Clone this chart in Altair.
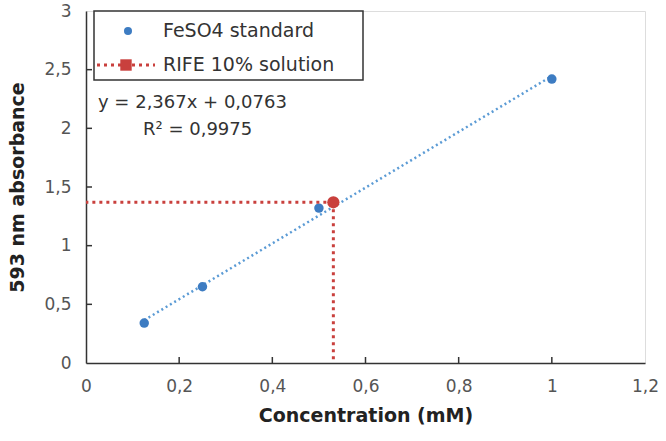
import altair as alt
import pandas as pd

# ---- data ----
std_conc = [0.125, 0.25, 0.5, 1.0]
std_abs = [0.34, 0.65, 1.32, 2.42]
sample_conc = [0.531]
sample_abs = [1.37]
x_ticks = [0, 0.2, 0.4, 0.6, 0.8, 1.0, 1.2]
y_ticks = [0, 0.5, 1, 1.5, 2, 2.5, 3]
legend_labels = ["FeSO4 standard", "RIFE 10% solution"]
eq_lines = ["y = 2,367x + 0,0763", "R\u00b2 = 0,9975"]

BLUE = "#3d7cc2"
LBLUE = "#5b9bd5"
RED = "#c9403d"
FONT = "DejaVu Sans"

W, H = 559, 352

df_std = pd.DataFrame({"conc": std_conc, "abs": std_abs})
df_smp = pd.DataFrame({"conc": sample_conc, "abs": sample_abs})
df_xt = pd.DataFrame({"conc": x_ticks[1:-1]})
df_yt = pd.DataFrame({"abs": y_ticks[1:-1]})
one = pd.DataFrame({"k": [0]})

xscale = alt.Scale(domain=[0, 1.2], nice=False, zero=False)
yscale = alt.Scale(domain=[0, 3], nice=False, zero=False)

xaxis = alt.Axis(
    title="Concentration (mM)", values=x_ticks, grid=False, ticks=False, format=".1~f",
    labelExpr="replace(datum.label, '.', ',')", labelFont=FONT, labelFontSize=17,
    labelColor="#555555", labelPadding=15, titleFont=FONT, titleFontSize=19,
    titleFontWeight="bold", titleColor="#222222", titlePadding=12,
    domainColor="#333333", domainWidth=1.5, labelFlush=False,
)
yaxis = alt.Axis(
    title="593 nm absorbance", values=y_ticks, grid=False, ticks=False, format=".1~f",
    labelExpr="replace(datum.label, '.', ',')", labelFont=FONT, labelFontSize=17,
    labelColor="#555555", labelPadding=15, titleFont=FONT, titleFontSize=19,
    titleFontWeight="bold", titleColor="#222222", titlePadding=16,
    domainColor="#333333", domainWidth=1.5, labelFlush=False,
)

trend = alt.Chart(df_std).transform_regression("conc", "abs").mark_line(
    color=LBLUE, strokeDash=[2, 3], strokeWidth=2.5
).encode(
    x=alt.X("conc:Q", scale=xscale, axis=xaxis),
    y=alt.Y("abs:Q", scale=yscale, axis=yaxis),
)

points = alt.Chart(df_std).mark_circle(size=90, color=BLUE, opacity=1).encode(
    x="conc:Q", y="abs:Q"
)

hline = alt.Chart(df_smp).mark_rule(color=RED, strokeDash=[3, 4], strokeWidth=3).encode(
    x="conc:Q", x2=alt.datum(0), y="abs:Q"
)
vline = alt.Chart(df_smp).mark_rule(color=RED, strokeDash=[3, 4], strokeWidth=3).encode(
    x="conc:Q", y="abs:Q", y2=alt.datum(0)
)
redpt = alt.Chart(df_smp).mark_circle(size=150, color=RED, opacity=1).encode(
    x="conc:Q", y="abs:Q"
)

xt = alt.Chart(df_xt).mark_rule(color="#333333", strokeWidth=1.5).encode(
    x="conc:Q", y=alt.value(H), y2=alt.value(H - 6)
)
yt = alt.Chart(df_yt).mark_rule(color="#333333", strokeWidth=1.5).encode(
    y="abs:Q", x=alt.value(0), x2=alt.value(6)
)

# legend (inside plot, top-left)
lbox = alt.Chart(one).mark_rect(fill="white", stroke="#333333", strokeWidth=1.5).encode(
    x=alt.value(8), x2=alt.value(277), y=alt.value(0), y2=alt.value(69)
)
lcirc = alt.Chart(one).mark_circle(size=65, color=BLUE, opacity=1).encode(
    x=alt.value(42), y=alt.value(20)
)
lline = alt.Chart(one).mark_rule(color=RED, strokeDash=[3, 4], strokeWidth=3).encode(
    x=alt.value(11), x2=alt.value(69), y=alt.value(54)
)
lsq = alt.Chart(one).mark_square(size=130, color=RED, opacity=1).encode(
    x=alt.value(40), y=alt.value(54)
)
ltxt1 = alt.Chart(one).mark_text(
    text=legend_labels[0], align="left", baseline="middle", font=FONT, fontSize=19, color="#333333"
).encode(x=alt.value(77), y=alt.value(20))
ltxt2 = alt.Chart(one).mark_text(
    text=legend_labels[1], align="left", baseline="middle", font=FONT, fontSize=19, color="#333333"
).encode(x=alt.value(77), y=alt.value(54))

eq1 = alt.Chart(one).mark_text(
    text=eq_lines[0], align="left", baseline="middle", font=FONT, fontSize=18, color="#333333"
).encode(x=alt.value(12), y=alt.value(92))
eq2 = alt.Chart(one).mark_text(
    text=eq_lines[1], align="left", baseline="middle", font=FONT, fontSize=18, color="#333333"
).encode(x=alt.value(57), y=alt.value(119))

chart = alt.layer(
    trend, points, hline, vline, redpt, xt, yt,
    lbox, lcirc, lline, lsq, ltxt1, ltxt2, eq1, eq2
).properties(
    width=W, height=H,
    autosize=alt.AutoSizeParams(type="none"),
    padding={"left": 86, "top": 11, "right": 21, "bottom": 78},
).configure_view(
    stroke="#808080", strokeWidth=2
).configure(background="white")

chart.save("out.html", embed_options={"renderer": "svg", "actions": False})
